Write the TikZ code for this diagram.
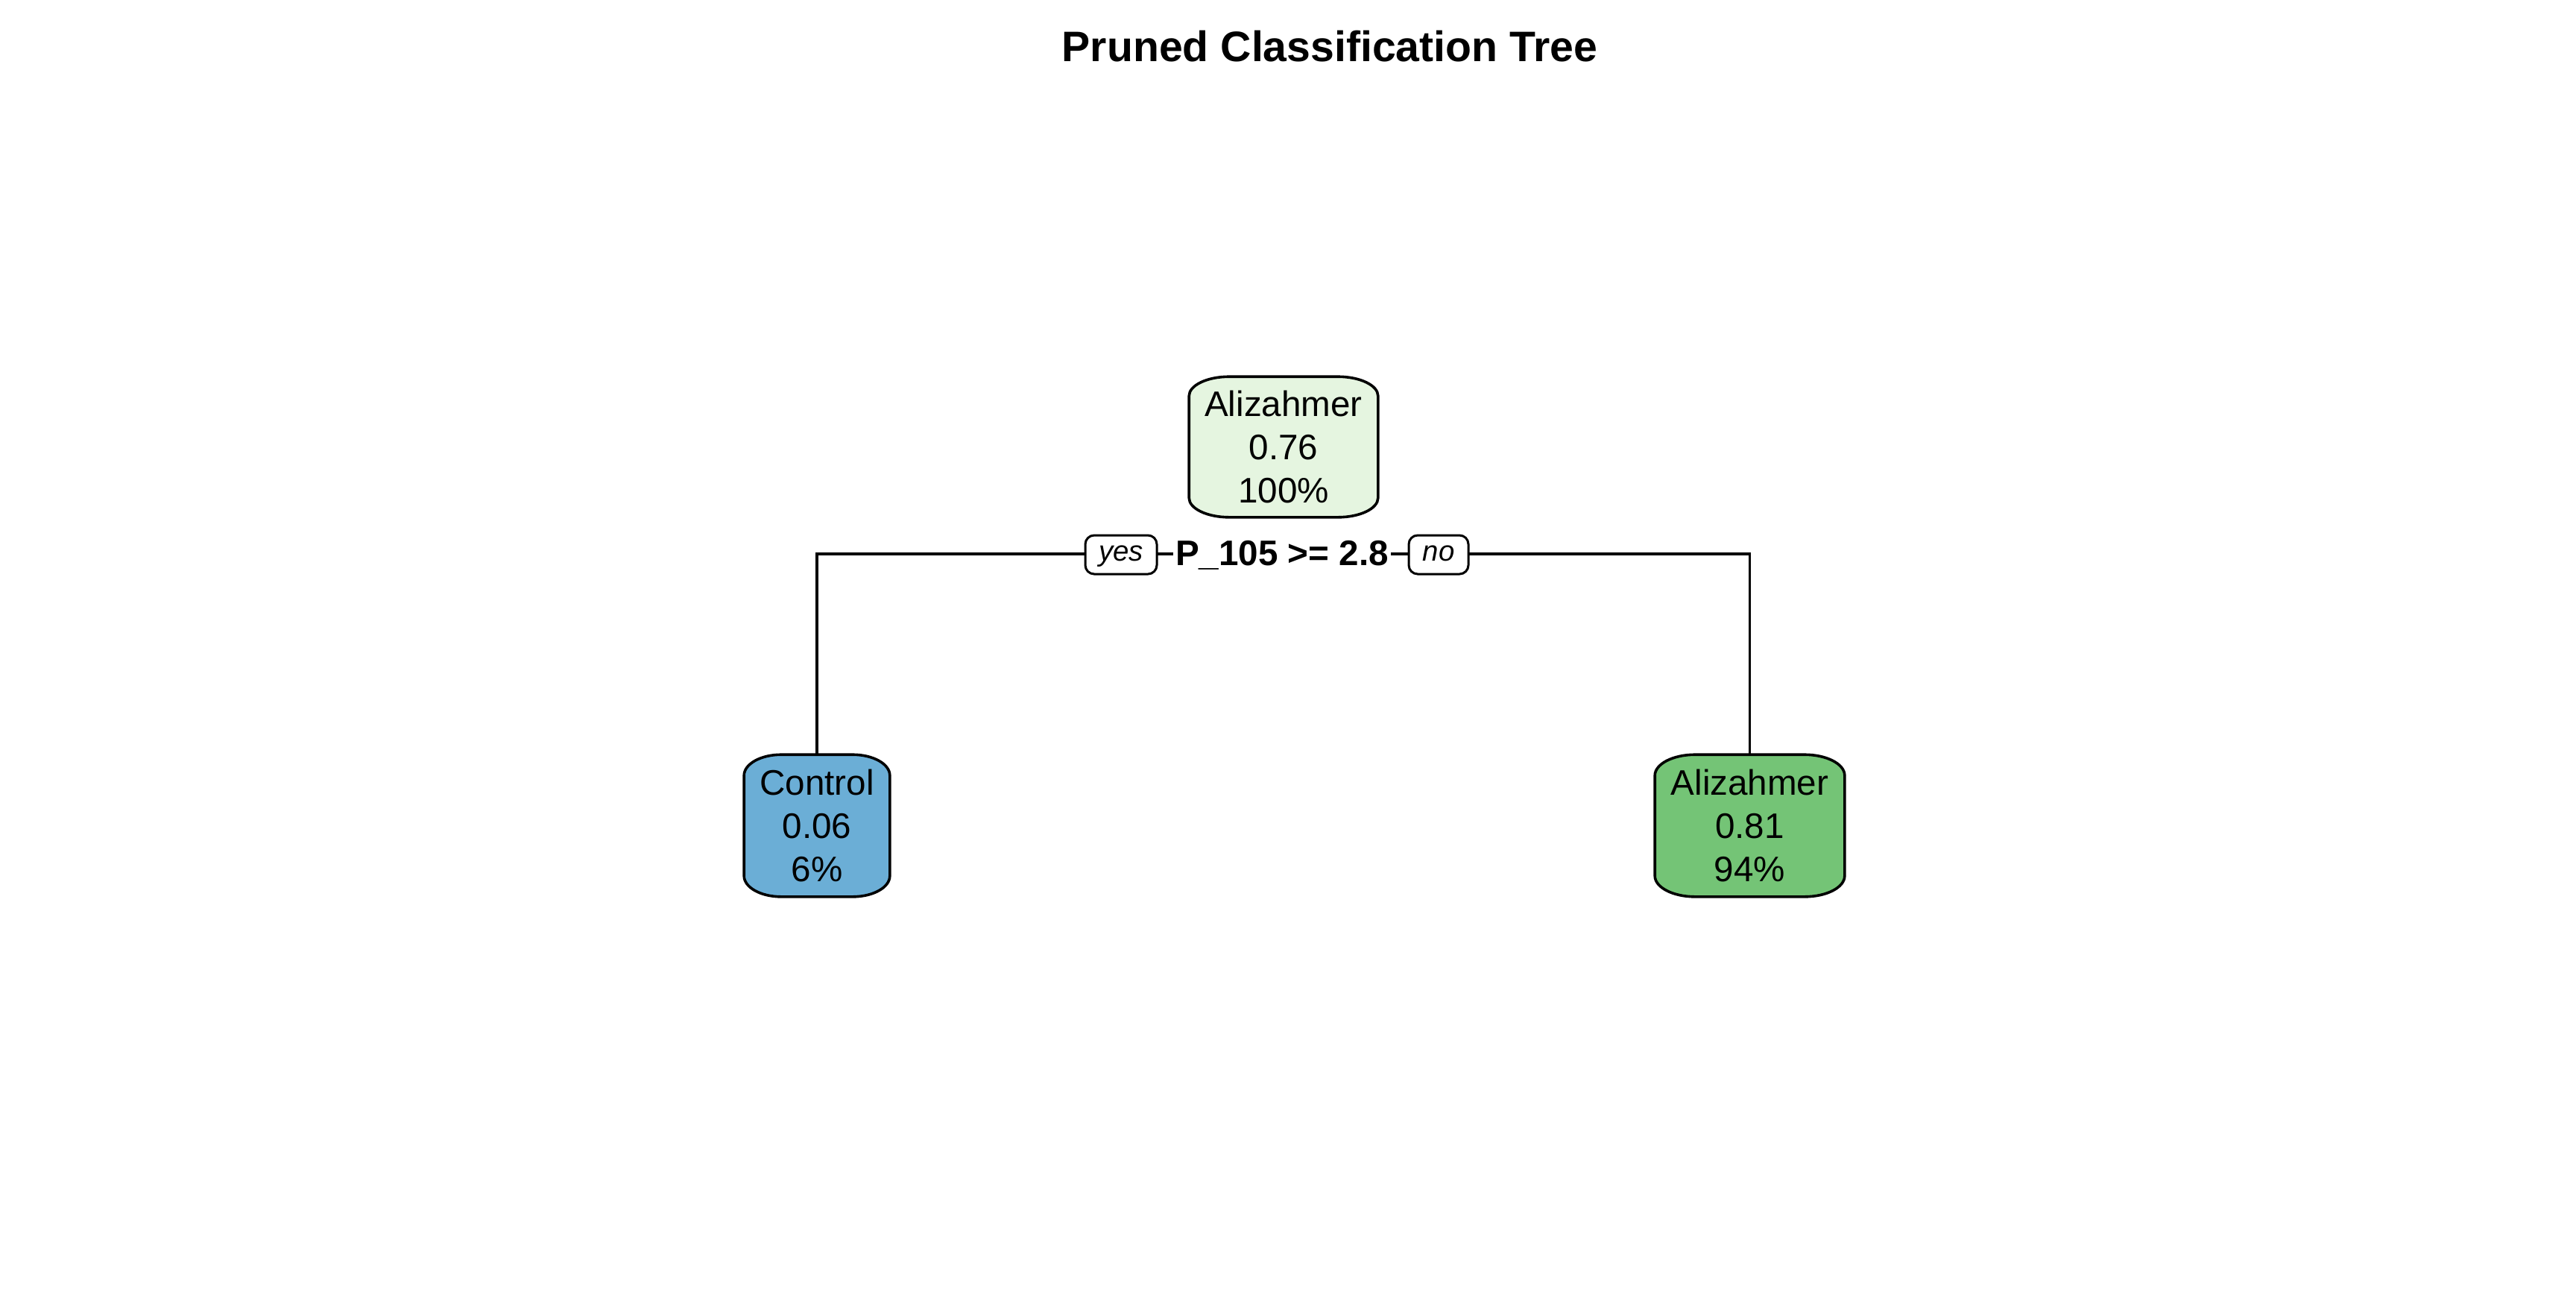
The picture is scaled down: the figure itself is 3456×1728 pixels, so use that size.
\documentclass[tikz,border=0pt]{standalone}
\usepackage{fontspec}
\setmainfont{Liberation Sans}
\usetikzlibrary{backgrounds}
\definecolor{rootfill}{HTML}{E5F5E0}
\definecolor{ctrlfill}{HTML}{6BAED6}
\definecolor{alzfill}{HTML}{74C476}
% elliptical-cornered box around a named node: name, fill, x radius, y radius
\newcommand\ellbox[4]{%
  \path[draw=black, fill=#2, line width=0.9pt]
    ([xshift=#3]#1.north west) -- ([xshift=-#3]#1.north east)
    arc[start angle=90, end angle=0, x radius=#3, y radius=#4]
    -- ([yshift=#4]#1.south east)
    arc[start angle=0, end angle=-90, x radius=#3, y radius=#4]
    -- ([xshift=#3]#1.south west)
    arc[start angle=270, end angle=180, x radius=#3, y radius=#4]
    -- ([yshift=-#4]#1.north west)
    arc[start angle=180, end angle=90, x radius=#3, y radius=#4]
    -- cycle;}
\tikzset{
  boxtext/.style={inner sep=0pt, align=center, font=\fontsize{11.9}{14.4}\selectfont},
  edge/.style={line width=0.8pt},
  yesno/.style={draw, line width=0.75pt, rounded corners=3pt, fill=white, inner sep=0pt,
    minimum height=13pt, text height=6pt, text depth=2pt, font=\fontsize{9.6}{11}\selectfont\itshape},
  splitlab/.style={fill=white, inner xsep=0.75pt, inner ysep=1pt,
    font=\fontsize{11.9}{14.4}\selectfont\bfseries},
  titlestyle/.style={font=\fontsize{14.3}{17}\selectfont\bfseries, inner sep=0pt, anchor=base}
}
\begin{document}
\begin{tikzpicture}[x=0.25pt, y=-0.25pt]
  \useasboundingbox (0,0) rectangle (3456,1728);

  \node[titlestyle] (title) at (1784,82) {Pruned Classification Tree};

  \node[boxtext, minimum width=63pt, minimum height=46.75pt] (root) at (1722,599.5) {Alizahmer\\0.76\\100\%};
  \node[boxtext, minimum width=48.5pt, minimum height=47.25pt] (left) at (1096,1107.5) {Control\\0.06\\6\%};
  \node[boxtext, minimum width=63.25pt, minimum height=47.25pt] (right) at (2347.5,1107.5) {Alizahmer\\0.81\\94\%};

  \begin{scope}[on background layer]
    \fill[white] (0,0) rectangle (3456,1728);
    \ellbox{root}{rootfill}{13.5pt}{6.5pt}
    \ellbox{left}{ctrlfill}{12.5pt}{7pt}
    \ellbox{right}{alzfill}{13.5pt}{7pt}
  \end{scope}

  \coordinate (splitpt) at (1722,743);
  \draw[edge] (left.north) -- (left.north |- splitpt) -- (right.north |- splitpt) -- (right.north);

  \node[splitlab, anchor=base] (split) at (1720,758) {P\_105 >= 2.8};
  \node[yesno, minimum width=24pt] (yes) at (1504,744) {yes};
  \node[yesno, minimum width=20pt] (no) at (1930,744) {no};
\end{tikzpicture}
\end{document}
